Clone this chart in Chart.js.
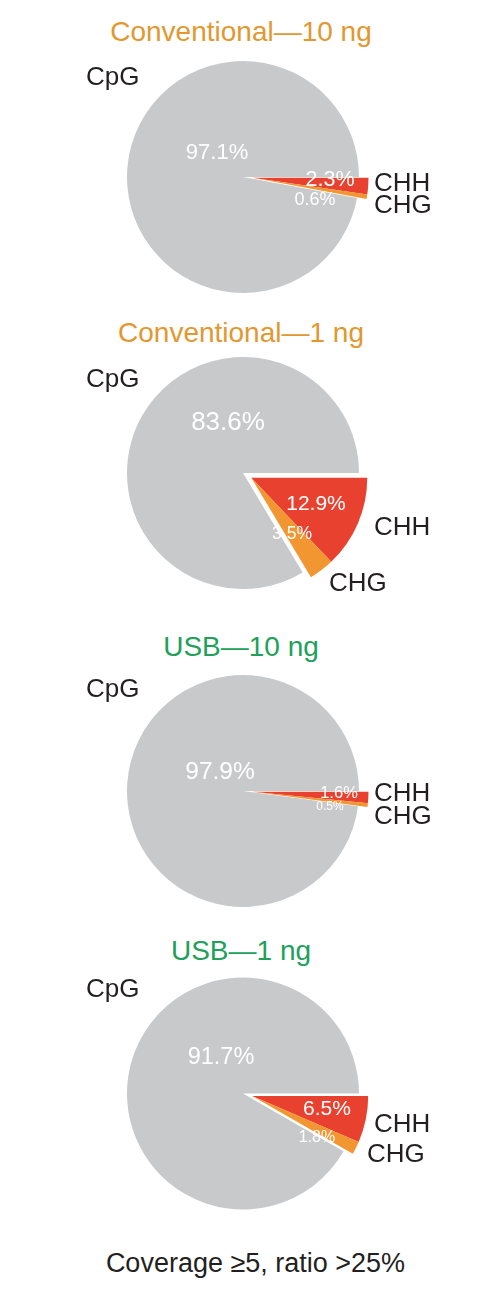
<!DOCTYPE html>
<html>
<head>
<meta charset="utf-8">
<script src="https://cdn.jsdelivr.net/npm/chart.js@4"></script>
<style>
    body { margin: 0; background: #fff; }
    #page { position: relative; width: 490px; height: 1306px; overflow: hidden;
            font-family: "Liberation Sans", Arial, sans-serif; }
    canvas { position: absolute; left: 0; }
    .title { position: absolute; left: 0; width: 482px; height: 30px; line-height: 30px;
             text-align: center; font-size: 28px; }
    .footer { position: absolute; left: 0; width: 511px; top: 1248px; height: 30px;
              line-height: 30px; text-align: center; font-size: 27px; color: #231f20; }
</style>
</head>
<body>
<div id="page"></div>

<script>
// ===============================
// DATA
// ===============================
const panelTitles = ["Conventional\u201410 ng", "Conventional\u20141 ng", "USB\u201410 ng", "USB\u20141 ng"];
const categories = ["CHH", "CHG", "CpG"];
const chhValues = [2.3, 12.9, 1.6, 6.5];
const chgValues = [0.6, 3.5, 0.5, 1.8];
const cpgValues = [97.1, 83.6, 97.9, 91.7];
const footerText = "Coverage \u22655, ratio >25%";

// ===============================
// LAYOUT / STYLE
// ===============================
const sliceColors = ["#e8412f", "#f29631", "#c8c9cb"];
const titleColors = ["#e2972f", "#e2972f", "#20a05a", "#20a05a"];
const panelTops = [0, 310, 620, 920];
const pieCenters = [177, 163, 171, 173.5];   // local y of pie centre
const titleCenters = [32, 23, 27, 31];       // local y of title
const pieX = 243, pieR = 116, panelH = 300;
const explode = 9.5;

// label offsets from pie centre: [CHH, CHG, CpG]
const nameOffsets = [
    [[131, 7], [131, 29], [-157, -99]],
    [[131, 55], [86, 111], [-157, -93]],
    [[131, 3], [131, 26], [-157, -101]],
    [[131, 31.5], [124, 61.5], [-157, -103.5]]
];
// percent label offsets (centre) and font sizes: [CHH, CHG, CpG]
const pctOffsets = [
    [[87, 3], [72, 23], [-26, -24]],
    [[73, 31], [49, 61], [-15, -50]],
    [[96, 2], [87, 16], [-23, -19]],
    [[84, 16], [74, 44], [-22, -36]]
];
const pctSizes = [
    [21.5, 18, 22],
    [21, 17.5, 26],
    [16.5, 12, 24.5],
    [21, 16, 23.5]
];

// ===============================
// PLUGINS
// ===============================
// move the two small slices out together
const explodePlugin = {
    id: "explodeGroup",
    beforeDatasetDraw(chart, args) {
        const ctx = chart.ctx;
        const arcs = args.meta.data;
        const mid = (arcs[0].startAngle + arcs[1].endAngle) / 2;
        const dx = Math.cos(mid) * explode;
        const dy = Math.sin(mid) * explode;
        arcs.forEach((arc, i) => {
            ctx.save();
            if (i < 2) ctx.translate(dx, dy);
            arc.draw(ctx, chart.chartArea);
            ctx.restore();
        });
        return false;
    }
};

const labelPlugin = {
    id: "sliceLabels",
    afterDatasetsDraw(chart) {
        const p = chart.options.plugins.sliceLabels.panel;
        const ctx = chart.ctx;
        const arcs = chart.getDatasetMeta(0).data;
        const values = chart.data.datasets[0].data;
        const cx = arcs[0].x, cy = arcs[0].y;

        ctx.save();
        ctx.textBaseline = "middle";

        ctx.fillStyle = "#ffffff";
        ctx.textAlign = "center";
        values.forEach((v, i) => {
            ctx.font = pctSizes[p][i] + 'px "Liberation Sans", Arial, sans-serif';
            ctx.fillText(v.toFixed(1) + "%", cx + pctOffsets[p][i][0], cy + pctOffsets[p][i][1]);
        });

        ctx.fillStyle = "#231f20";
        ctx.textAlign = "left";
        ctx.font = '26px "Liberation Sans", Arial, sans-serif';
        chart.data.labels.forEach((name, i) => {
            ctx.fillText(name, cx + nameOffsets[p][i][0], cy + nameOffsets[p][i][1]);
        });
        ctx.restore();
    }
};

// ===============================
// BUILD PANELS
// ===============================
const page = document.getElementById("page");

panelTitles.forEach((title, p) => {
    const t = document.createElement("div");
    t.className = "title";
    t.style.top = (panelTops[p] + titleCenters[p] - 15) + "px";
    t.style.color = titleColors[p];
    t.textContent = title;
    page.appendChild(t);

    const canvas = document.createElement("canvas");
    canvas.width = 490;
    canvas.height = panelH;
    canvas.style.top = panelTops[p] + "px";
    page.appendChild(canvas);

    const cy = pieCenters[p];

    new Chart(canvas.getContext("2d"), {
        type: "pie",
        data: {
            labels: categories,
            datasets: [{
                data: [chhValues[p], chgValues[p], cpgValues[p]],
                backgroundColor: sliceColors,
                borderWidth: 0
            }]
        },
        options: {
            responsive: false,
            animation: false,
            rotation: 90,
            layout: {
                padding: {
                    left: pieX - pieR,
                    right: 490 - pieX - pieR,
                    top: cy - pieR,
                    bottom: panelH - cy - pieR
                }
            },
            plugins: {
                legend: { display: false },
                tooltip: { enabled: false },
                sliceLabels: { panel: p }
            }
        },
        plugins: [explodePlugin, labelPlugin]
    });
});

const footer = document.createElement("div");
footer.className = "footer";
footer.textContent = footerText;
page.appendChild(footer);
</script>
</body>
</html>
